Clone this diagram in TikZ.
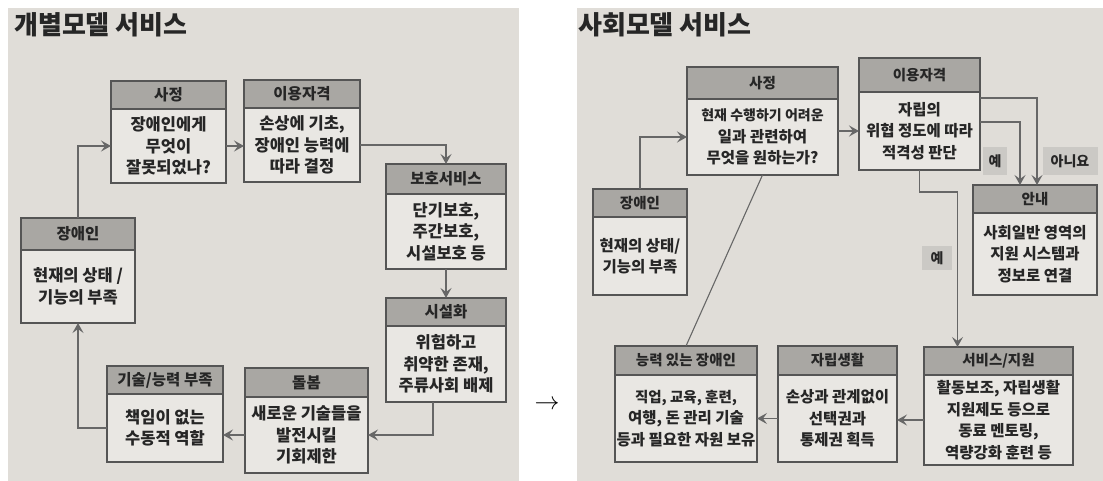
\documentclass[tikz,border=0pt]{standalone}
\usepackage{fontspec}
\newfontfamily\kr{Noto Sans CJK KR}
\usetikzlibrary{arrows.meta,calc}
\definecolor{paper}{HTML}{E0DDD8}
\definecolor{bodyfill}{HTML}{E9E7E3}
\definecolor{headfill}{HTML}{A9A7A3}
\definecolor{edge}{HTML}{555555}
\definecolor{connc}{HTML}{676767}
\definecolor{ink}{HTML}{262626}
\definecolor{tagfill}{HTML}{CBC9C5}
\tikzset{
  boxhead/.style={draw=edge, line width=1.1pt, fill=headfill, inner sep=0pt, outer sep=0pt,
    anchor=north west, text=ink},
  boxbody/.style={draw=edge, line width=1.1pt, fill=bodyfill, inner sep=0pt, outer sep=0pt,
    anchor=north west, align=center, text=ink},
  lhead/.style={font=\kr\bfseries\fontsize{15.5}{18}\selectfont},
  rhead/.style={font=\kr\bfseries\fontsize{14.5}{18}\selectfont},
  lbody/.style={font=\kr\bfseries\fontsize{16.5}{21.5}\selectfont},
  rbody/.style={font=\kr\bfseries\fontsize{15.5}{21.5}\selectfont},
  conn/.style={draw=connc, line width=1.3pt, -{Stealth[length=10pt,width=11pt,inset=4pt]}},
  plainconn/.style={draw=connc, line width=1.1pt},
  tag/.style={fill=tagfill, text=ink, inner sep=0pt, font=\kr\bfseries\fontsize{14}{16}\selectfont},
  paneltitle/.style={anchor=west, text=ink, inner sep=0pt, font=\kr\bfseries\fontsize{26}{28}\selectfont},
}
% #1 name, #2 left, #3 top, #4 right, #5 header bottom, #6 bottom, #7 header, #8 body, #9 side (l/r body style)
\newcommand{\flowbox}[9]{%
  \node[boxhead, #9head, minimum width={(#4-#2)*1pt}, minimum height={(#5-#3)*1pt}] (#1-h) at (#2,#3) {#7};
  \node[boxbody, #9body, minimum width={(#4-#2)*1pt}, minimum height={(#6-#5)*1pt}] (#1) at (#2,#5) {#8};
}
\begin{document}
\begin{tikzpicture}[x=1pt,y=-1pt]
\fill[white] (0,0) rectangle (1103,481);
\useasboundingbox (0,0) rectangle (1103,481);
\fill[paper] (8,8) rectangle (519,481);
\fill[paper] (577,8) rectangle (1103,481);

% titles
\node[paneltitle] (titleL) at (14,25) {개별모델 서비스};
\node[paneltitle] (titleR) at (578,25) {사회모델 서비스};

% ---------- left panel ----------
\flowbox{sajeongL}{111}{81}{226}{109}{183}{사정}{장애인에게\\무엇이\\잘못되었나?}{l}
\flowbox{iyongL}{244}{80}{360}{108}{182}{이용자격}{손상에 기초,\\장애인 능력에\\따라 결정}{l}
\flowbox{bohoL}{386}{164}{506}{194}{269}{보호서비스}{단기보호,\\주간보호,\\시설보호 등}{l}
\flowbox{sisulL}{386}{298}{506}{326}{402}{시설화}{위험하고\\취약한 존재,\\주류사회 배제}{l}
\flowbox{dolbomL}{245}{368}{368}{397}{473}{돌봄}{새로운 기술들을\\발전시킬\\기회제한}{l}
\flowbox{gisulL}{107}{366}{223}{394}{462}{기술/능력 부족}{책임이 없는\\수동적 역할}{l}
\flowbox{jangL}{21}{218}{135}{250}{323}{장애인}{현재의 상태 /\\기능의 부족}{l}

\draw[conn] (jangL-h.north) |- (sajeongL.west);
\draw[conn] (sajeongL.east) -- (sajeongL.east -| iyongL.west);
\draw[conn] (iyongL.east) -| (bohoL-h.north);
\draw[conn] (bohoL.south) -- (sisulL-h.north);
\draw[conn] ([xshift=-13pt]sisulL.south) |- (dolbomL.east);
\draw[conn] (dolbomL.west) -- (dolbomL.west -| gisulL.east);
\draw[conn] (gisulL.west) -| (jangL.south);

\node[font=\fontsize{27}{27}\selectfont, inner sep=0pt] (between) at (547,405) {$\rightarrow$};

% ---------- right panel ----------
\flowbox{sajeongR}{687}{67}{838}{99}{175}{사정}{\fontsize{14}{21}\selectfont 현재 수행하기 어려운\\일과 관련하여\\무엇을 원하는가?}{r}
\flowbox{iyongR}{859}{58}{980}{92}{170}{이용자격}{자립의\\위협 정도에 따라\\적격성 판단}{r}
\flowbox{annaeR}{973}{185}{1097}{213}{295}{안내}{사회일반 영역의\\지원 시스템과\\정보로 연결}{r}
\flowbox{serviceR}{924}{347}{1073}{375}{465}{서비스/지원}{활동보조, 자립생활\\지원제도 등으로\\동료 멘토링,\\역량강화 훈련 등}{r}
\flowbox{jaripR}{778}{346}{897}{375}{462}{자립생활}{손상과 관계없이\\선택권과\\통제권 획득}{r}
\flowbox{abilR}{615}{346}{757}{375}{462}{능력 있는 장애인}{\fontsize{14.5}{21.5}\selectfont 직업, 교육, 훈련,\\여행, 돈 관리 기술\\등과 필요한 자원 보유}{r}
\flowbox{jangR}{593}{189}{687}{217}{295}{장애인}{현재의 상태/\\기능의 부족}{r}

\draw[conn] (jangR-h.north) |- (sajeongR.west);
\draw[conn] (sajeongR.east |- iyongR.west) -- (iyongR.west);
\draw[conn] ([yshift=33pt]iyongR.east) -| ([xshift=2pt]annaeR-h.north);
\draw[conn] ([yshift=9pt]iyongR.east) -| ([xshift=-15pt]annaeR-h.north);
\draw[conn] (iyongR.south) -- ++(0,-22pt) -| ([xshift=-41pt]serviceR-h.north);
\draw[conn] (serviceR.west) -- (serviceR.west -| jaripR.east);
\draw[conn] (jaripR.west) -- (jaripR.west -| abilR.east);
\draw[plainconn] (sajeongR.south) -- (abilR-h.north);

\node[tag, minimum width=55pt, minimum height=28pt] (noR) at (1070,161) {아니요};
\node[tag, minimum width=24pt, minimum height=28pt] (yesR1) at (995,161) {예};
\node[tag, minimum width=30pt, minimum height=23pt] (yesR2) at (937,258) {예};
\end{tikzpicture}
\end{document}
